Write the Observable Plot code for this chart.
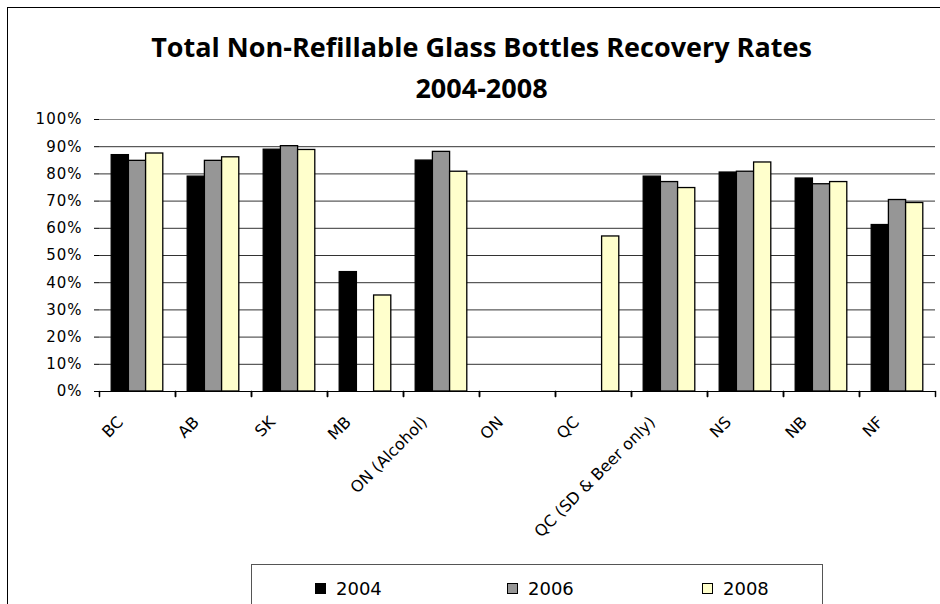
<!DOCTYPE html>
<html>
<head>
<meta charset="utf-8">
<script src="https://cdn.jsdelivr.net/npm/d3@7"></script>
<script src="https://cdn.jsdelivr.net/npm/@observablehq/plot@0.6"></script>
<style>
  body { margin: 0; background: #fff; }
  #wrap { position: relative; width: 940px; height: 604px; overflow: hidden; background: #fff; }
  #outer { position: absolute; left: 7px; top: 7px; width: 1000px; height: 700px; border: 1px solid #000; box-sizing: border-box; }
  .title { position: absolute; left: 0; width: 963px; text-align: center; font-family: "Open Sans", sans-serif; font-weight: bold; font-size: 27px; line-height: 40px; color: #000; white-space: nowrap; }
  #chart { position: absolute; left: 0; top: 0; }
  #chart svg g[aria-label="y-axis tick label"] text { letter-spacing: 1px; }
  #legend { position: absolute; left: 251px; top: 564px; width: 572px; height: 60px; border: 1px solid #555; box-sizing: border-box; }
  .item { position: absolute; top: 12px; height: 22px; display: flex; align-items: center; font-family: "DejaVu Sans", sans-serif; font-size: 18px; color: #000; }
  .sw { width: 11px; height: 11px; border: 1px solid #000; box-sizing: border-box; margin-right: 10px; }
</style>
</head>
<body>
<div id="wrap">
  <div id="outer"></div>
  <div class="title" id="t1" style="top:27px"></div>
  <div class="title" id="t2" style="top:68px"></div>
  <div id="chart"></div>
  <div id="legend"></div>
</div>
<script>
const titleLine1 = "Total Non-Refillable Glass Bottles Recovery Rates";
const titleLine2 = "2004-2008";
const categories = ["BC", "AB", "SK", "MB", "ON (Alcohol)", "ON", "QC", "QC (SD & Beer only)", "NS", "NB", "NF"];
const years = ["2004", "2006", "2008"];
const values2004 = [0.869, 0.790, 0.889, 0.439, 0.849, null, null, 0.790, 0.805, 0.783, 0.612];
const values2006 = [0.848, 0.848, 0.902, null, 0.881, null, null, 0.770, 0.808, 0.762, 0.704];
const values2008 = [0.875, 0.861, 0.888, 0.353, 0.808, null, 0.570, 0.748, 0.842, 0.770, 0.693];
const yearColors = ["#000000", "#969696", "#FFFFCC"];
const yTicks = [0, 0.1, 0.2, 0.3, 0.4, 0.5, 0.6, 0.7, 0.8, 0.9, 1.0];

document.getElementById("t1").textContent = titleLine1;
document.getElementById("t2").textContent = titleLine2;

const seriesValues = [values2004, values2006, values2008];
const rows = categories.flatMap((c, i) =>
  years.map((yr, k) => ({category: c, year: yr, value: seriesValues[k][i]}))
);

const tickShape = {
  draw(context, l) { context.moveTo(0, 0); context.lineTo(0, -l); }
};

const chart = Plot.plot({
  width: 940,
  height: 604,
  marginTop: 119,
  marginBottom: 213,
  marginLeft: 99,
  marginRight: 5,
  style: {background: "transparent", fontFamily: "DejaVu Sans, sans-serif", color: "#000"},
  fx: {domain: categories, padding: 0, round: false, label: null},
  x: {domain: years, paddingInner: 0, paddingOuter: 0.71, round: false, axis: null},
  y: {domain: [0, 1], label: null},
  color: {domain: years, range: yearColors},
  marks: [
    Plot.ruleY(yTicks.slice(1, -1), {stroke: "#333", strokeWidth: 1}),
    Plot.ruleY([1], {stroke: "#888"}),
    Plot.barY(rows, {fx: "category", x: "year", y: "value", fill: "year", stroke: "#000", strokeWidth: 1.3}),
    Plot.ruleY([0], {stroke: "#000"}),
    Plot.axisY({ticks: yTicks, tickFormat: d3.format(".0%"), tickSize: 5, tickPadding: 12, fontSize: 15, label: null, line: true}),
    Plot.axisY({anchor: "right", ticks: [], line: true, stroke: "#888", label: null}),
    Plot.axisFx({anchor: "bottom", tickRotate: -45, tickSize: 0, tickPadding: 28, dx: -17, fontSize: 16, label: null}),
    Plot.vector([0], {frameAnchor: "bottom-left", length: 5, rotate: 180, anchor: "start", stroke: "#000", shape: tickShape}),
    Plot.vector([0], {frameAnchor: "bottom-right", length: 5, rotate: 180, anchor: "start", stroke: "#000", shape: tickShape})
  ]
});
document.getElementById("chart").appendChild(chart);

const legendX = [63, 255, 450];
const legend = document.getElementById("legend");
years.forEach((yr, k) => {
  const item = document.createElement("div");
  item.className = "item";
  item.style.left = legendX[k] + "px";
  const sw = document.createElement("div");
  sw.className = "sw";
  sw.style.background = yearColors[k];
  const label = document.createElement("span");
  label.textContent = yr;
  item.appendChild(sw);
  item.appendChild(label);
  legend.appendChild(item);
});
</script>
</body>
</html>
